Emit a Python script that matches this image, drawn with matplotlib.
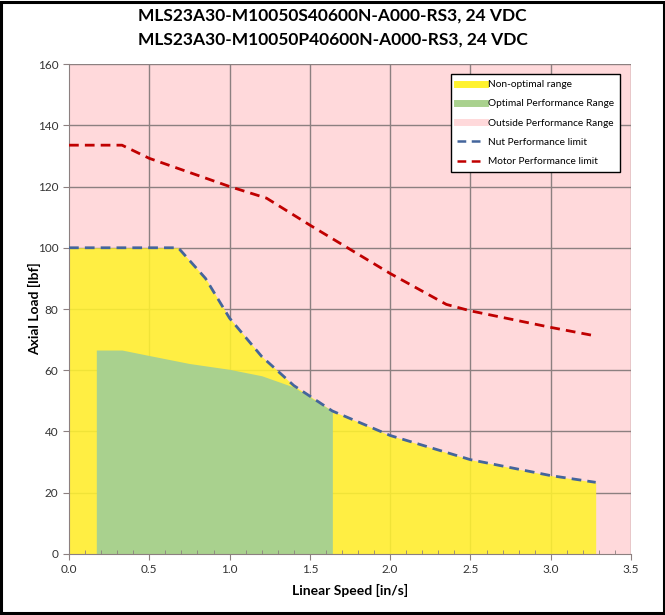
import matplotlib
matplotlib.use("Agg")
import matplotlib.pyplot as plt
from matplotlib.patches import Rectangle
from matplotlib.lines import Line2D
import numpy as np

title_lines = ["MLS23A30-M10050S40600N-A000-RS3, 24 VDC",
               "MLS23A30-M10050P40600N-A000-RS3, 24 VDC"]

nut_x = [0.0, 0.33, 0.68, 0.85, 1.0, 1.2, 1.4, 1.64, 2.0, 2.5, 3.0, 3.28]
nut_y = [100, 100, 100, 90, 77, 64.5, 55, 46.7, 38.7, 30.8, 25.6, 23.4]

motor_x = [0.0, 0.33, 0.5, 1.0, 1.23, 1.5, 2.0, 2.35, 2.5, 3.0, 3.28]
motor_y = [133.5, 133.5, 129.2, 120, 116.2, 107.4, 91.6, 81.5, 79.4, 74.0, 71.2]

opt_x = [0.17, 0.33, 0.5, 0.75, 1.0, 1.2, 1.4, 1.64]
opt_y = [66.6, 66.6, 64.8, 62.2, 60.3, 58.2, 54.5, 46.7]

x_major = [0.0, 0.5, 1.0, 1.5, 2.0, 2.5, 3.0, 3.5]
y_major = [0, 20, 40, 60, 80, 100, 120, 140, 160]

PINK = "#FFD9DB"
YELLOW = "#FFF22E"
GREEN = "#A9D18E"
BLUE = "#44659C"
RED = "#C00000"
GRID = "#8C8080"

plt.rcParams['font.family'] = ['Lato', 'DejaVu Sans']

fig = plt.figure(figsize=(6.65, 6.15), dpi=100)
fig.patch.set_facecolor("white")
fig.add_artist(Rectangle((0.002, 0.003), 0.996, 0.994, transform=fig.transFigure,
                         fill=False, edgecolor="black", linewidth=2.2))

ax = fig.add_axes([0.1038, 0.0992, 0.8451, 0.7967])
ax.set_facecolor(PINK)
ax.set_xlim(0, 3.5)
ax.set_ylim(0, 160)
ax.set_xticks(x_major)
ax.set_xticks(np.arange(0, 3.51, 0.1), minor=True)
ax.set_yticks(y_major)
ax.set_xticklabels([f"{v:.1f}" for v in x_major])
ax.set_axisbelow(False)

for xv in x_major[1:]:
    ax.axvline(xv, color=GRID, linewidth=1.0, zorder=0.6)
for yv in y_major[1:]:
    ax.axhline(yv, color=GRID, linewidth=1.0, zorder=0.6)

ax.fill_between(nut_x, 0, nut_y, color=YELLOW, alpha=0.88, linewidth=0, zorder=1)
ax.fill_between(opt_x, 0, opt_y, color=GREEN, linewidth=0, zorder=2)
ax.plot(nut_x, nut_y, color=BLUE, linestyle=(0, (3.5, 2.2)), linewidth=2.0, zorder=3)
ax.plot(motor_x, motor_y, color=RED, linestyle=(0, (3.5, 2.2)), linewidth=2.0, zorder=3)

for s in ["top", "right"]:
    ax.spines[s].set_visible(False)
for s in ["left", "bottom"]:
    ax.spines[s].set_color(GRID)
ax.tick_params(axis="both", which="major", colors=GRID, labelcolor="#333333",
               labelsize=8.5, length=4)
ax.tick_params(axis="x", which="minor", colors=GRID, direction="in", length=3)

ax.set_xlabel("Linear Speed [in/s]", fontsize=10, fontweight="bold", labelpad=6)
ax.set_ylabel("Axial Load [lbf]", fontsize=10, fontweight="bold", labelpad=-2)

fig.text(0.5, 0.974, title_lines[0], ha="center", va="center", fontsize=12.5, fontweight="bold")
fig.text(0.5, 0.935, title_lines[1], ha="center", va="center", fontsize=12.5, fontweight="bold")

handles = [
    Line2D([0], [0], color=YELLOW, linewidth=5),
    Line2D([0], [0], color=GREEN, linewidth=5),
    Line2D([0], [0], color=PINK, linewidth=5),
    Line2D([0], [0], color=BLUE, linewidth=1.8, linestyle=(0, (3.5, 2.2))),
    Line2D([0], [0], color=RED, linewidth=1.8, linestyle=(0, (3.5, 2.2))),
]
labels = ["Non-optimal range", "Optimal Performance Range", "Outside Performance Range",
          "Nut Performance limit", "Motor Performance limit"]
leg = ax.legend(handles, labels, loc="upper right", bbox_to_anchor=(0.99, 0.99),
                fontsize=7.3, frameon=True, fancybox=False, edgecolor="black",
                facecolor="white", framealpha=1.0, handlelength=2.8,
                labelspacing=1.0, borderpad=0.6, handletextpad=0.3)
leg.get_frame().set_linewidth(1.0)
leg.set_zorder(5)

fig.savefig("out.png", dpi=100)
